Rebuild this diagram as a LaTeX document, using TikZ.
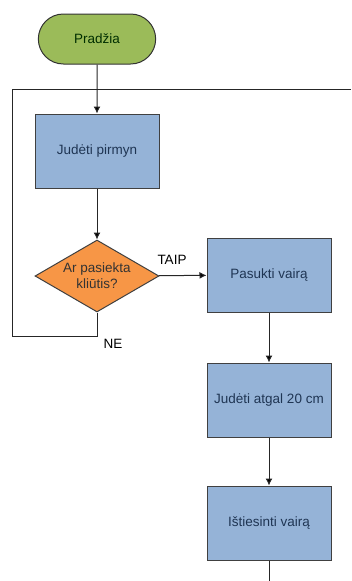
\documentclass[tikz,border=0pt]{standalone}
\usepackage{fontspec}
\setmainfont{Liberation Sans}
\usetikzlibrary{arrows, arrows.meta, shapes, positioning}

\definecolor{startgreen}{HTML}{9BBB59}
\definecolor{boxblue}{HTML}{95B3D7}
\definecolor{askorange}{HTML}{F79646}
\definecolor{textblue}{HTML}{1F3553}

\begin{document}
\begin{tikzpicture}[x=1pt, y=-1pt, >={Latex[length=7pt, width=7pt]},
    every node/.style={font=\fontsize{13.5}{16}\selectfont},
    terminal/.style={rounded rectangle, draw=black!80, line width=1pt, fill=startgreen,
                     text=black!70!green!60!black, minimum width=124pt, minimum height=50pt},
    action/.style={rectangle, draw=black!75, line width=1pt, fill=boxblue, text=textblue,
                   minimum width=124pt, minimum height=74pt},
    question/.style={diamond, draw=black!75, line width=1pt, fill=askorange, text=black!80,
                     aspect=1.7, minimum width=124pt, minimum height=72pt, inner sep=0pt,
                     align=center},
    flow/.style={line width=1pt, draw=black!85}]
      \useasboundingbox (0,0) rectangle (351,581);

      % Nodes
      \node[terminal] (start) at (97, 39) {Pradžia};
      \node[action] (forward) at (97, 151) {Judėti pirmyn};
      \node[question] (obstacle) at (97, 276) {Ar pasiekta\\kliūtis?};
      \node[action] (turn) at (269, 275) {Pasukti vairą};
      \node[action] (back) at (269, 400) {Judėti atgal 20 cm};
      \node[action] (straight) at (269, 523) {Ištiesinti vairą};

      \node (yes) at (172, 260) {TAIP};
      \node (no) at (113, 344) {NE};

      % Loop corners
      \coordinate (noturn) at (97, 336);
      \coordinate (lowleft) at (12, 336);
      \coordinate (topleft) at (12, 89);
      \coordinate (topright) at (351, 89);
      \coordinate (tail) at (269, 581);

      % Edges
      \path[->, flow] (start) edge (forward)
                  (forward) edge (obstacle)
                  (obstacle) edge (turn)
                  (turn) edge (back)
                  (back) edge (straight);
      \draw[flow] (obstacle.south) -- (noturn) -- (lowleft) -- (topleft) -- (topright);
      \draw[flow] (straight) -- (tail);

    \end{tikzpicture}
\end{document}
